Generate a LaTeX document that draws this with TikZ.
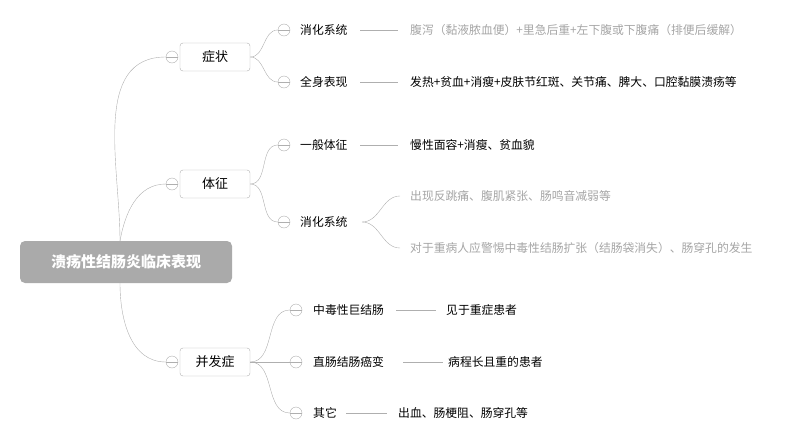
\documentclass[tikz,border=0pt]{standalone}
\usepackage{fontspec}
\setmainfont{Noto Sans CJK SC}
\usetikzlibrary{positioning, calc}
\definecolor{lgray}{RGB}{170,170,170}
\definecolor{lline}{RGB}{175,175,175}
\definecolor{ltext}{RGB}{165,165,165}
\tikzstyle{Topic} = [draw=lline, rounded corners=3pt, minimum width=70pt, minimum height=28pt, font=\fontsize{13}{15}\selectfont]
\tikzstyle{Fold} = [draw=lline, circle, fill=white, inner sep=0pt, minimum size=12pt, path picture={\draw[lline] (path picture bounding box.west) -- (path picture bounding box.east);}]
\tikzstyle{Sub} = [anchor=west, inner sep=0pt, font=\fontsize{11.8}{13}\selectfont]
\tikzstyle{Leaf} = [anchor=west, inner sep=0pt, font=\fontsize{11.8}{13}\selectfont]
\tikzstyle{Link} = [lline, thin]
\begin{document}
\begin{tikzpicture}[x=1pt, y=-1pt]
    \useasboundingbox (0,0) rectangle (790,447);
    \node [fill=lgray, rounded corners=5pt, minimum width=212pt, minimum height=42pt, text=white, font=\fontsize{15}{17}\selectfont\bfseries] (root) at (126,262) {溃疡性结肠炎临床表现};

    % level one
    \node [Topic] (zz) at (215,57) {症状};
    \node [Topic] (tz) at (215,184) {体征};
    \node [Topic] (bf) at (215,362) {并发症};
    \node [Fold] (fzz) at (172,57) {};
    \node [Fold] (ftz) at (172,184) {};
    \node [Fold] (fbf) at (172,362) {};
    \draw[Link] (120,241) to [out=90, in=180] (fzz);
    \draw[Link] (120,241) to [out=80, in=180] (ftz);
    \draw[Link] (120,283) to [out=-90, in=180] (fbf);

    % 症状
    \node [Fold] (f1) at (284,30) {};
    \node [Fold] (f2) at (284,82) {};
    \node [Sub] (xh1) at (300,30) {消化系统};
    \node [Sub] (qs) at (300,82) {全身表现};
    \node [Leaf, text=ltext] (l1) at (410,30) {腹泻（黏液脓血便）+里急后重+左下腹或下腹痛（排便后缓解）};
    \node [Leaf] (l2) at (410,82) {发热+贫血+消瘦+皮肤节红斑、关节痛、脾大、口腔黏膜溃疡等};
    \draw[Link] (zz.east) to [out=0, in=180] (f1);
    \draw[Link] (zz.east) to [out=0, in=180] (f2);
    \draw[Link] (360,30) -- (398,30);
    \draw[Link] (360,82) -- (398,82);

    % 体征
    \node [Fold] (f3) at (284,145) {};
    \node [Fold] (f4) at (284,222) {};
    \node [Sub] (yb) at (300,145) {一般体征};
    \node [Sub] (xh2) at (300,222) {消化系统};
    \node [Leaf] (l3) at (410,145) {慢性面容+消瘦、贫血貌};
    \node [Leaf, text=ltext] (l4) at (410,196) {出现反跳痛、腹肌紧张、肠鸣音减弱等};
    \node [Leaf, text=ltext] (l5) at (410,248) {对于重病人应警惕中毒性结肠扩张（结肠袋消失）、肠穿孔的发生};
    \draw[Link] (tz.east) to [out=0, in=180] (f3);
    \draw[Link] (tz.east) to [out=0, in=180] (f4);
    \draw[Link] (360,145) -- (398,145);
    \draw[Link] (362,222) to [out=0, in=180] (400,196);
    \draw[Link] (362,222) to [out=0, in=180] (400,248);

    % 并发症
    \node [Fold] (f5) at (296,310) {};
    \node [Fold] (f6) at (296,362) {};
    \node [Fold] (f7) at (296,413) {};
    \node [Sub] (zd) at (313,310) {中毒性巨结肠};
    \node [Sub] (zc) at (313,362) {直肠结肠癌变};
    \node [Sub] (qt) at (313,413) {其它};
    \node [Leaf] (l6) at (446,310) {见于重症患者};
    \node [Leaf] (l7) at (448,362) {病程长且重的患者};
    \node [Leaf] (l8) at (398,413) {出血、肠梗阻、肠穿孔等};
    \draw[Link] (bf.east) to [out=0, in=180] (f5);
    \draw[Link] (bf.east) -- (f6);
    \draw[Link] (bf.east) to [out=0, in=180] (f7);
    \draw[Link] (396,310) -- (436,310);
    \draw[Link] (403,362) -- (443,362);
    \draw[Link] (346,413) -- (387,413);
\end{tikzpicture}
\end{document}
